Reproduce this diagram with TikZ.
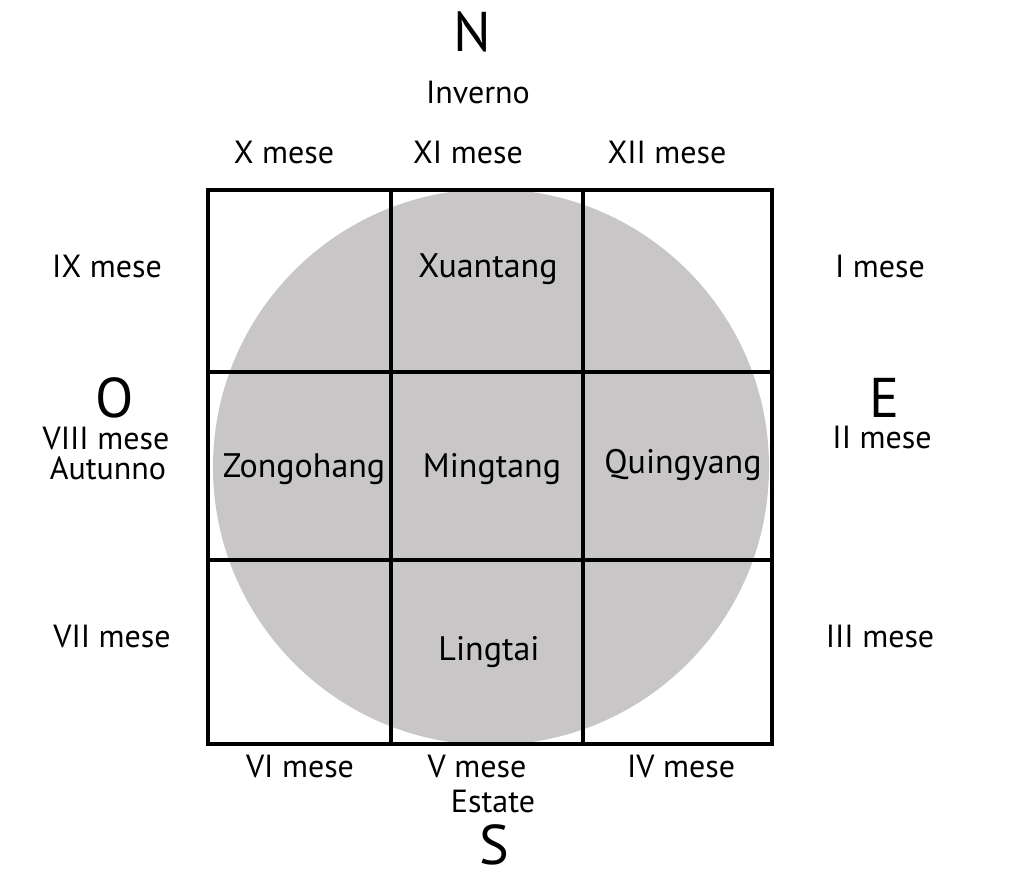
\documentclass[tikz,border=0pt]{standalone}
\usepackage{fontspec}
\setmainfont{PT Sans}
\definecolor{diskgray}{RGB}{201,198,199}

\begin{document}
\begin{tikzpicture}[x=1pt, y=-1pt,
    every node/.style = {font=\fontsize{32}{32}\selectfont, inner sep=0pt, anchor=base},
    hall/.style = {font=\fontsize{34}{34}\selectfont},
    cardinal/.style = {font=\fontsize{56}{56}\selectfont, text depth=0pt},
    gridline/.style = {line width=4.5pt, line cap=rect}
    ]
    \useasboundingbox (0,0) rectangle (1024,874);
    % disk behind the grid
    \fill[diskgray] (491,467) circle [radius=278pt];
    % the nine halls
    \foreach \x in {208,391,583,772}
        \draw[gridline] (\x,190) -- (\x,744);
    \foreach \y in {190,372,560,744}
        \draw[gridline] (208,\y) -- (772,\y);
    % halls
    \node[hall] (xuantang)  at (488,277) {Xuantang};
    \node[hall] (zongohang) at (304,477) {Zongohang};
    \node[hall] (mingtang)  at (492,477) {Mingtang};
    \node[hall] (quingyang) at (683,473) {Quingyang};
    \node[hall] (lingtai)   at (489,660) {Lingtai};
    % north
    \node[cardinal] (n) at (472,52) {N};
    \node (inverno) at (478,104) {Inverno};
    \node (m10) at (284,164) {X mese};
    \node (m11) at (468,164) {XI mese};
    \node (m12) at (667,164) {XII mese};
    % east
    \node (m1) at (880,277) {I mese};
    \node[cardinal] (e) at (884,417) {E};
    \node (m2) at (882,448) {II mese};
    \node (m3) at (880,647) {III mese};
    % south
    \node (m4) at (681,777) {IV mese};
    \node (m5) at (477,777) {V mese};
    \node (m6) at (300,777) {VI mese};
    \node (estate) at (493,812) {Estate};
    \node[cardinal] (s) at (494,864) {S};
    % west
    \node (m7) at (112,647) {VII mese};
    \node[cardinal] (o) at (115,417) {O};
    \node (m8) at (106,449) {VIII mese};
    \node (autunno) at (108,479) {Autunno};
    \node (m9) at (107,277) {IX mese};
\end{tikzpicture}
\end{document}
